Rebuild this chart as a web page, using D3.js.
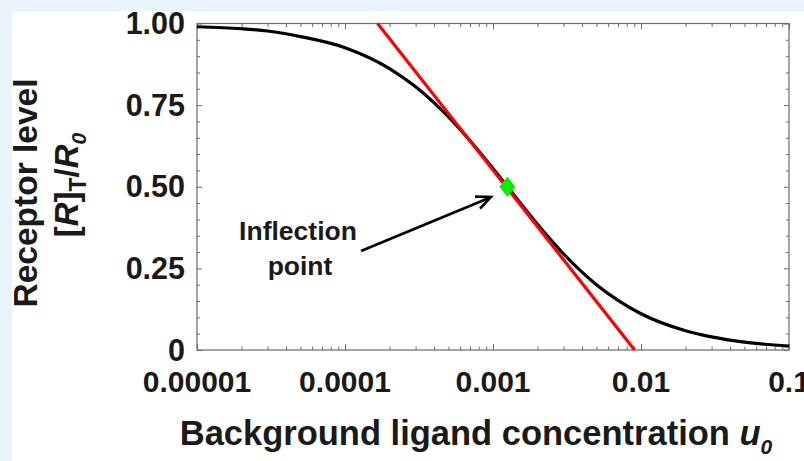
<!DOCTYPE html>
<html>
<head>
<meta charset="utf-8">
<script src="https://cdn.jsdelivr.net/npm/d3@7"></script>
<style>
  html, body { margin: 0; padding: 0; background: #e9f4fb; }
  svg { display: block; }
  text { font-family: "Liberation Sans", Arial, Helvetica, sans-serif; font-weight: bold; fill: #1a1a1a; }
</style>
</head>
<body>
<svg id="chart" width="804" height="461"></svg>
<script>
// ---- data ----
const uValues = [0.00001, 0.00002, 0.00003, 0.00005, 0.0001, 0.0002, 0.0003, 0.0005, 0.0007, 0.001,
                 0.0015, 0.002, 0.003, 0.005, 0.007, 0.01, 0.02, 0.03, 0.05, 0.1];
const receptorLevel = [0.99, 0.984, 0.977, 0.96, 0.926, 0.862, 0.806, 0.714, 0.641, 0.556,
                       0.455, 0.385, 0.294, 0.2, 0.152, 0.111, 0.059, 0.04, 0.024, 0.012];
const tangentU = [0.000166, 0.00905];
const tangentR = [1.0, 0.0];
const inflectionU = [0.00125];
const inflectionR = [0.5];
const xTickValues = [0.00001, 0.0001, 0.001, 0.01, 0.1];
const xTickLabels = ["0.00001", "0.0001", "0.001", "0.01", "0.1"];
const yTickValues = [0, 0.25, 0.5, 0.75, 1];
const yTickLabels = ["0", "0.25", "0.50", "0.75", "1.00"];

// ---- layout ----
const W = 804, H = 461;
const pLeft = 197, pRight = 789, pTop = 23.5, pBottom = 350;

const svg = d3.select("#chart");
svg.append("rect").attr("x", 12).attr("y", 11).attr("width", W - 12).attr("height", H - 11).attr("fill", "#ffffff");

const x = d3.scaleLog().domain([1e-5, 1e-1]).range([pLeft, pRight]);
const y = d3.scaleLinear().domain([0, 1]).range([pBottom, pTop]);

// minor ticks
const minorX = [];
for (let e = -5; e < -1; e++) for (let m = 2; m <= 9; m++) minorX.push(m * Math.pow(10, e));
const minorY = d3.range(0, 1.0001, 0.05).filter(v => Math.abs(v * 4 - Math.round(v * 4)) > 1e-6);

const axisColor = "#6b6b6b";
function styleAxis(g) {
  g.select(".domain").remove();
  g.selectAll("line").attr("stroke", axisColor).attr("stroke-width", 1);
  g.selectAll("text").remove();
}

// frame
svg.append("rect").attr("x", pLeft).attr("y", pTop).attr("width", pRight - pLeft).attr("height", pBottom - pTop)
  .attr("fill", "none").attr("stroke", axisColor).attr("stroke-width", 1.2);

// bottom / top ticks (inward)
svg.append("g").attr("transform", `translate(0,${pBottom})`).call(d3.axisBottom(x).tickValues(xTickValues).tickSize(-6)).call(styleAxis);
svg.append("g").attr("transform", `translate(0,${pBottom})`).call(d3.axisBottom(x).tickValues(minorX).tickSize(-3.5)).call(styleAxis);
svg.append("g").attr("transform", `translate(0,${pTop})`).call(d3.axisTop(x).tickValues(xTickValues).tickSize(-6)).call(styleAxis);
svg.append("g").attr("transform", `translate(0,${pTop})`).call(d3.axisTop(x).tickValues(minorX).tickSize(-3.5)).call(styleAxis);
// left / right ticks
svg.append("g").attr("transform", `translate(${pLeft},0)`).call(d3.axisLeft(y).tickValues(yTickValues).tickSize(-5)).call(styleAxis);
svg.append("g").attr("transform", `translate(${pLeft},0)`).call(d3.axisLeft(y).tickValues(minorY).tickSize(-3)).call(styleAxis);
svg.append("g").attr("transform", `translate(${pRight},0)`).call(d3.axisRight(y).tickValues(yTickValues).tickSize(-5)).call(styleAxis);
svg.append("g").attr("transform", `translate(${pRight},0)`).call(d3.axisRight(y).tickValues(minorY).tickSize(-3)).call(styleAxis);

// tick labels
svg.append("g").selectAll("text").data(xTickValues).join("text")
  .attr("x", d => x(d)).attr("y", 392).attr("text-anchor", "middle")
  .attr("font-size", 30).text((d, i) => xTickLabels[i]);
svg.append("g").selectAll("text").data(yTickValues).join("text")
  .attr("x", 185).attr("y", d => y(d) + 10.5).attr("text-anchor", "end")
  .attr("font-size", 30.5).text((d, i) => yTickLabels[i]);

// curve
const line = d3.line().x(d => x(d[0])).y(d => y(d[1])).curve(d3.curveMonotoneX);
svg.append("path").datum(uValues.map((u, i) => [u, receptorLevel[i]]))
  .attr("d", line).attr("fill", "none").attr("stroke", "#000").attr("stroke-width", 3.2);

// tangent line
svg.append("path").datum(tangentU.map((u, i) => [u, tangentR[i]]))
  .attr("d", d3.line().x(d => x(d[0])).y(d => y(d[1])))
  .attr("fill", "none").attr("stroke", "#ff0000").attr("stroke-width", 3.2);

// inflection marker (diamond)
svg.append("g").selectAll("path").data(inflectionU).join("path")
  .attr("transform", (d, i) => `translate(${x(d)},${y(inflectionR[i])})`)
  .attr("d", "M0,-10 L8,0 L0,10 L-8,0 Z").attr("fill", "#00ee00");

// annotation
svg.append("text").attr("x", 298).attr("y", 240).attr("text-anchor", "middle").attr("font-size", 26.5).text("Inflection");
svg.append("text").attr("x", 300).attr("y", 275).attr("text-anchor", "middle").attr("font-size", 26.5).text("point");
const ax0 = 361, ay0 = 251, ax1 = 491, ay1 = 197;
svg.append("line").attr("x1", ax0).attr("y1", ay0).attr("x2", ax1 - 2).attr("y2", ay1 + 1)
  .attr("stroke", "#000").attr("stroke-width", 2.6);
const ang = Math.atan2(ay1 - ay0, ax1 - ax0);
const hl = 16, ha = 0.42;
svg.append("path")
  .attr("d", `M${ax1 - hl * Math.cos(ang - ha)},${ay1 - hl * Math.sin(ang - ha)} L${ax1},${ay1} L${ax1 - hl * Math.cos(ang + ha)},${ay1 - hl * Math.sin(ang + ha)}`)
  .attr("fill", "none").attr("stroke", "#000").attr("stroke-width", 2.6).attr("stroke-linejoin", "miter");

// x axis title
const xt = svg.append("text").attr("x", 476).attr("y", 445).attr("text-anchor", "middle").attr("font-size", 34.5);
xt.append("tspan").text("Background ligand concentration ");
xt.append("tspan").attr("font-style", "italic").text("u");
xt.append("tspan").attr("font-style", "italic").attr("font-size", 21).attr("dy", 9).text("0");

// y axis title
const yt = svg.append("g").attr("transform", "translate(37,193) rotate(-90)");
yt.append("text").attr("x", 0).attr("y", 0).attr("text-anchor", "middle").attr("font-size", 33.5).text("Receptor level");
const y2 = yt.append("text").attr("x", 8).attr("y", 41).attr("text-anchor", "middle").attr("font-size", 33);
y2.append("tspan").text("[");
y2.append("tspan").attr("font-style", "italic").text("R");
y2.append("tspan").text("]");
y2.append("tspan").attr("font-size", 23).attr("dy", 8).text("T");
y2.append("tspan").attr("dy", -8).text("/");
y2.append("tspan").attr("font-style", "italic").text("R");
y2.append("tspan").attr("font-style", "italic").attr("font-size", 21).attr("dy", 8).text("0");
</script>
</body>
</html>
